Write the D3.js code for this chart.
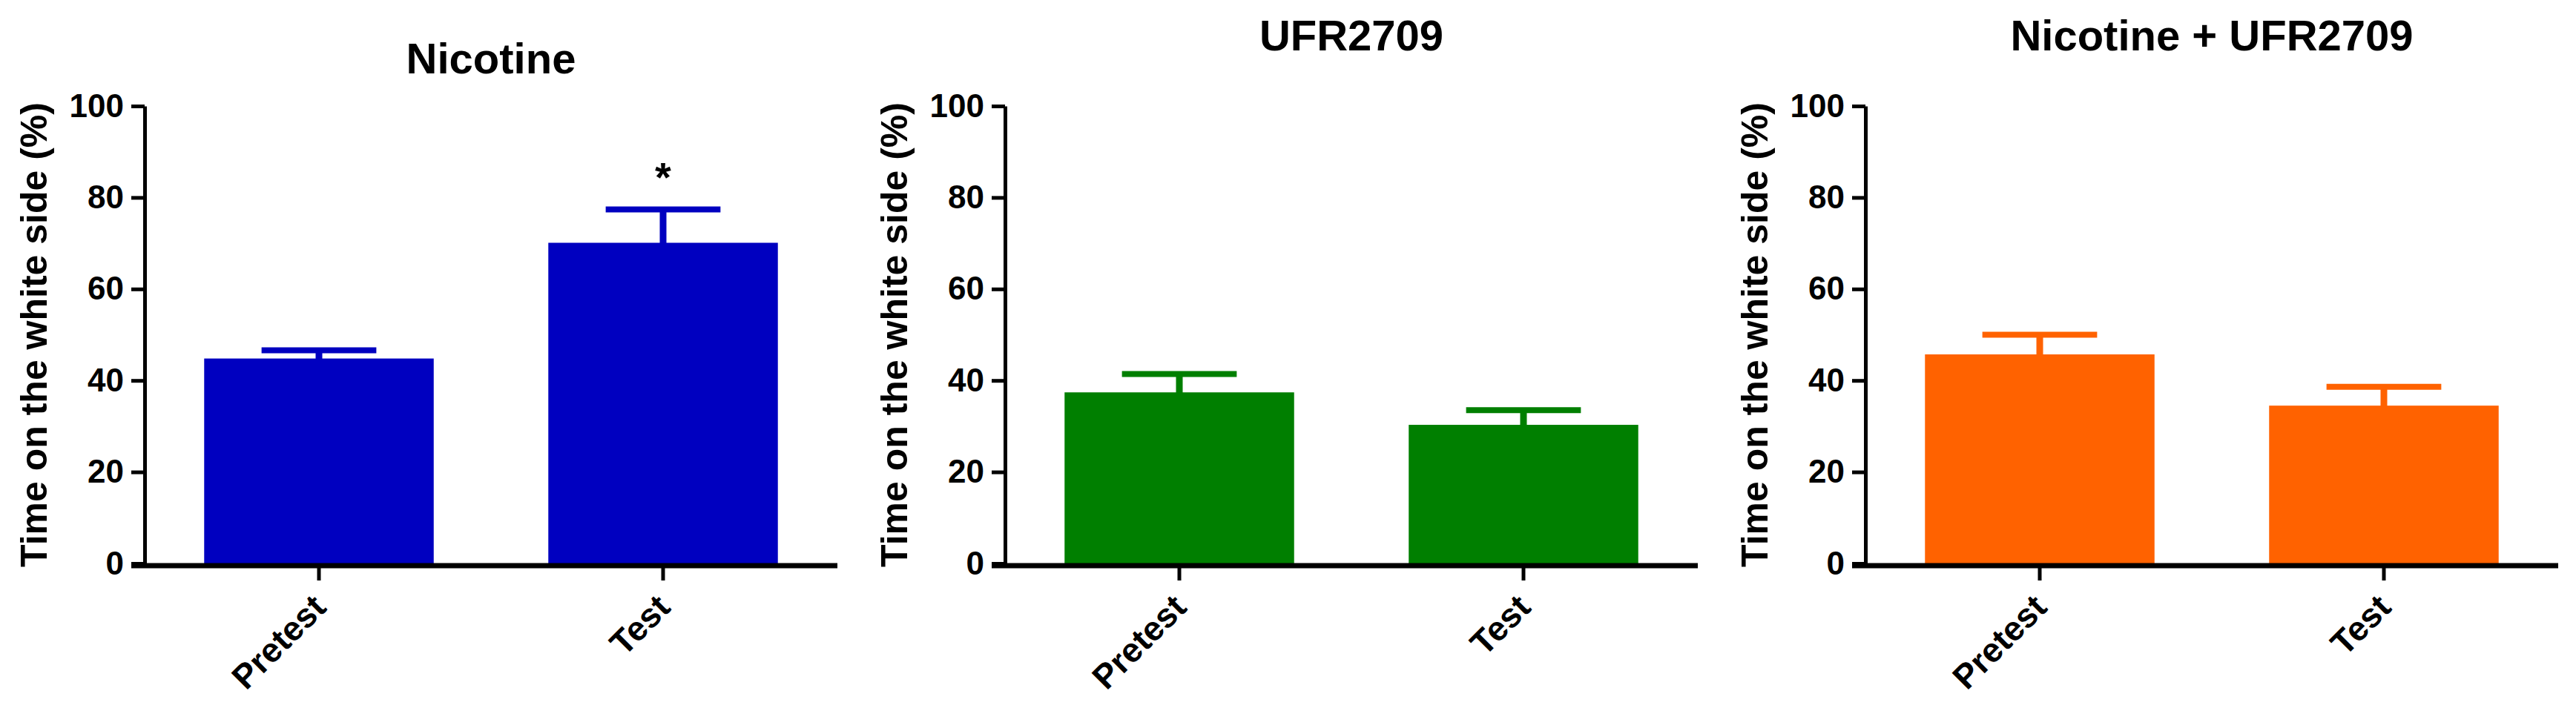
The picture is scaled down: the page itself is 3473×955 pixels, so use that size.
<!DOCTYPE html>
<html>
<head>
<meta charset="utf-8">
<script src="https://cdn.jsdelivr.net/npm/d3@7"></script>
<style>
  body { margin: 0; background: #fff; }
  text { font-family: "Liberation Sans", Arial, sans-serif; font-weight: bold; fill: #000; }
</style>
</head>
<body>
<svg width="3473" height="955"></svg>
<script>
// data (mean and SEM, % time on white side)
var groups = ['Pretest', 'Test']
var titles = ['Nicotine', 'UFR2709', 'Nicotine + UFR2709']
var colors = ['#0000c0', '#007f00', '#ff6200']
var nicotine_mean = [44.8, 70.1]
var nicotine_sem = [1.8, 7.3]
var ufr_mean = [37.4, 30.3]
var ufr_sem = [4.0, 3.2]
var combo_mean = [45.7, 34.5]
var combo_sem = [4.3, 4.1]
var stars = [['', '*'], ['', ''], ['', '']]
var y_ticks = [0, 20, 40, 60, 80, 100]

var means = [nicotine_mean, ufr_mean, combo_mean]
var sems = [nicotine_sem, ufr_sem, combo_sem]

// layout
var panel_x = [0, 1160, 2320]
var title_y = [99, 68, 68]
var left = 195
var right = 1129
var top_y = 143
var zero_y = 760
var axis_y = 763

var svg = d3.select('svg')
svg.append('rect').attr('width', 3473).attr('height', 955).attr('fill', '#fff')

var y = d3.scaleLinear().domain([0, 100]).range([zero_y, top_y])
var x = d3.scaleBand().domain(groups).range([left, right])
    .paddingInner(0.333).paddingOuter(0.173)

titles.forEach(function(title, i){
    var g = svg.append('g').attr('transform', 'translate(' + panel_x[i] + ',0)')
    var rows = groups.map(function(d, j){
        return {name: d, mean: means[i][j], sem: sems[i][j], star: stars[i][j]}
    })

    // bars
    g.selectAll('rect.bar').data(rows).enter().append('rect')
        .attr('class', 'bar')
        .attr('x', function(d){ return x(d.name) })
        .attr('width', x.bandwidth())
        .attr('y', function(d){ return y(d.mean) })
        .attr('height', function(d){ return zero_y - y(d.mean) })
        .attr('fill', colors[i])

    // error bars (upper only)
    var cx = function(d){ return x(d.name) + x.bandwidth() / 2 }
    g.selectAll('line.stem').data(rows).enter().append('line')
        .attr('x1', cx).attr('x2', cx)
        .attr('y1', function(d){ return y(d.mean) + 1 })
        .attr('y2', function(d){ return y(d.mean + d.sem) })
        .attr('stroke', colors[i]).attr('stroke-width', 9)
    g.selectAll('line.cap').data(rows).enter().append('line')
        .attr('x1', function(d){ return cx(d) - x.bandwidth() / 4 })
        .attr('x2', function(d){ return cx(d) + x.bandwidth() / 4 })
        .attr('y1', function(d){ return y(d.mean + d.sem) })
        .attr('y2', function(d){ return y(d.mean + d.sem) })
        .attr('stroke', colors[i]).attr('stroke-width', 8)

    g.selectAll('text.star').data(rows).enter().append('text')
        .attr('x', cx)
        .attr('y', function(d){ return y(d.mean + d.sem) - 24 })
        .attr('text-anchor', 'middle')
        .style('font-size', '56px')
        .text(function(d){ return d.star })

    // y axis
    var ya = g.append('g').attr('transform', 'translate(' + left + ',0)')
        .call(d3.axisLeft(y).tickValues(y_ticks).tickSize(18).tickSizeOuter(0).tickPadding(10))
    ya.select('.domain').attr('stroke-width', 5)
    ya.selectAll('.tick line').attr('stroke-width', 5)
    ya.selectAll('.tick text').style('font-size', '44px').attr('font-family', null)

    // x axis
    var xa = g.append('g').attr('transform', 'translate(0,' + axis_y + ')')
        .call(d3.axisBottom(x).tickSize(20).tickSizeOuter(0))
    xa.select('.domain').remove()
    xa.append('line').attr('x1', left - 18).attr('x2', right)
        .attr('stroke', '#000').attr('stroke-width', 7)
    xa.selectAll('.tick line').attr('stroke-width', 5)
    xa.selectAll('.tick text')
        .attr('y', null).attr('dy', null)
        .attr('text-anchor', 'end')
        .attr('transform', 'translate(12,59) rotate(-45)')
        .style('font-size', '46px').attr('font-family', null)

    // axis title
    g.append('text')
        .attr('transform', 'translate(63,' + (zero_y + top_y) / 2 + ') rotate(-90)')
        .attr('text-anchor', 'middle')
        .style('font-size', '50px')
        .text('Time on the white side (%)')

    // panel title
    g.append('text')
        .attr('x', (left + right) / 2)
        .attr('y', title_y[i])
        .attr('text-anchor', 'middle')
        .style('font-size', '58px')
        .text(title)
})
</script>
</body>
</html>
